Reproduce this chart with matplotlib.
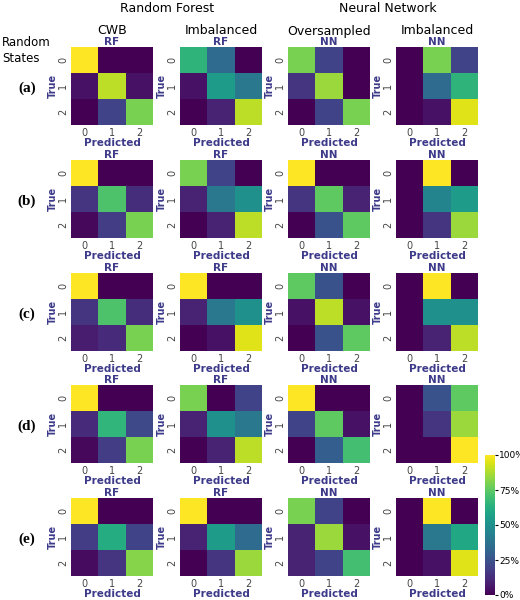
import numpy as np
import matplotlib.pyplot as plt

row_labels = ['(a)', '(b)', '(c)', '(d)', '(e)']
col_titles = ['CWB', 'Imbalanced', 'Oversampled', 'Imbalanced']
col_tags = ['RF', 'RF', 'NN', 'NN']
ticks = ['0', '1', '2']

rf_cwb = [
    [[1, 0, 0], [0.05, 0.9, 0.05], [0, 0.2, 0.8]],
    [[1, 0, 0], [0.15, 0.72, 0.13], [0.02, 0.18, 0.8]],
    [[1, 0, 0], [0.15, 0.72, 0.13], [0.08, 0.12, 0.8]],
    [[1, 0, 0], [0.12, 0.66, 0.22], [0.02, 0.18, 0.8]],
    [[1, 0, 0], [0.18, 0.62, 0.2], [0.03, 0.15, 0.82]],
]
rf_imb = [
    [[0.65, 0.35, 0], [0.05, 0.55, 0.4], [0, 0.1, 0.9]],
    [[0.8, 0.2, 0], [0.1, 0.4, 0.5], [0, 0.1, 0.9]],
    [[1, 0, 0], [0.1, 0.4, 0.5], [0, 0.05, 0.95]],
    [[0.8, 0, 0.2], [0.1, 0.5, 0.4], [0, 0.1, 0.9]],
    [[1, 0, 0], [0.1, 0.55, 0.35], [0, 0.15, 0.85]],
]
nn_over = [
    [[0.8, 0.2, 0], [0.15, 0.85, 0], [0, 0.2, 0.8]],
    [[1, 0, 0], [0.15, 0.75, 0.1], [0, 0.25, 0.75]],
    [[0.75, 0.25, 0], [0.05, 0.9, 0.05], [0, 0.25, 0.75]],
    [[1, 0, 0], [0.2, 0.75, 0.05], [0, 0.3, 0.7]],
    [[0.8, 0.2, 0], [0.1, 0.85, 0.05], [0.1, 0.2, 0.7]],
]
nn_imb = [
    [[0, 0.8, 0.2], [0, 0.35, 0.65], [0, 0.05, 0.95]],
    [[0, 1, 0], [0, 0.45, 0.55], [0, 0.15, 0.85]],
    [[0, 1, 0], [0, 0.5, 0.5], [0, 0.1, 0.9]],
    [[0, 0.25, 0.75], [0, 0.15, 0.85], [0, 0, 1]],
    [[0, 1, 0], [0, 0.4, 0.6], [0, 0.05, 0.95]],
]
data = [rf_cwb, rf_imb, nn_over, nn_imb]

W, H = 520, 600
lab = '#3d3a8a'
fig = plt.figure(figsize=(5.2, 6), dpi=100)

def px(x, y, w, h):
    return [x / W, 1 - (y + h) / H, w / W, h / H]

col_x = [71, 180, 288, 396]
row_y = [47, 160, 273, 385, 498]
aw, ah = 82, 78

for r in range(5):
    for c in range(4):
        ax = fig.add_axes(px(col_x[c], row_y[r], aw, ah))
        im = ax.imshow(np.array(data[c][r]), cmap='viridis', vmin=0, vmax=1, aspect='auto')
        ax.set_xticks(range(3))
        ax.set_xticklabels(ticks, fontsize=7)
        ax.set_yticks(range(3))
        ax.set_yticklabels(ticks, fontsize=7, rotation=90, va='center')
        ax.tick_params(length=0, pad=2, colors='#444444')
        for s in ax.spines.values():
            s.set_visible(False)
        ax.set_xlabel('Predicted', fontsize=7.5, color=lab, fontweight='bold', labelpad=0)
        ax.set_ylabel('True', fontsize=7, color=lab, fontweight='bold', labelpad=0)
        ax.set_title(col_tags[c], fontsize=7.5, color=lab, fontweight='bold', pad=1.5)
        if r == 0:
            fig.text((col_x[c] + aw / 2) / W, 1 - 31 / H, col_titles[c], ha='center',
                     va='center', fontsize=9)
    fig.text(27 / W, 1 - (row_y[r] + ah / 2 + 2) / H, row_labels[r], ha='center', va='center',
             fontsize=11, fontweight='bold', family='Liberation Serif')

fig.text(2 / W, 1 - 50 / H, 'Random\nStates', ha='left', va='center', fontsize=8.5,
         linespacing=1.3)
fig.text(167 / W, 1 - 8 / H, 'Random Forest', ha='center', va='center', fontsize=9)
fig.text(388 / W, 1 - 8 / H, 'Neural Network', ha='center', va='center', fontsize=9)

cax = fig.add_axes(px(485, 455, 10, 140))
cb = fig.colorbar(im, cax=cax, ticks=[0, 0.25, 0.5, 0.75, 1])
cb.ax.set_yticklabels(['0%', '25%', '50%', '75%', '100%'], fontsize=6.5)
cb.ax.tick_params(length=2, pad=1)
cb.outline.set_visible(False)

fig.savefig('out.png', dpi=100)
